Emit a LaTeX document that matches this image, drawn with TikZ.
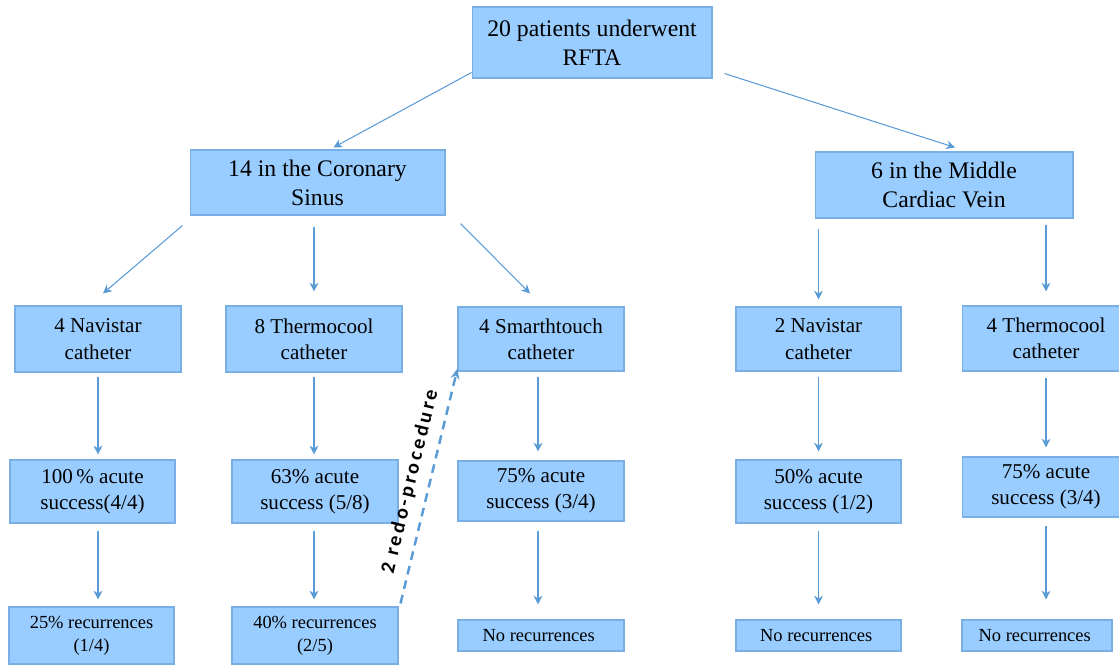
\documentclass[tikz,border=0pt]{standalone}
\usepackage{fontspec}
\setmainfont{Liberation Serif}
\newfontfamily\redofont[LetterSpace=15]{Carlito}
\usepackage{tikz}
\usetikzlibrary{positioning,arrows.meta}
\definecolor{boxfill}{RGB}{153,204,255}
\definecolor{boxline}{RGB}{120,175,230}
\definecolor{linkblue}{RGB}{91,155,213}
\tikzstyle{box}=[rectangle, draw=boxline, fill=boxfill, line width=0.6pt, align=center, text=black, inner sep=2pt]
\tikzstyle{bigbox}=[box, font=\fontsize{13.5}{16.4}\selectfont]
\tikzstyle{midbox}=[box, font=\fontsize{12}{15}\selectfont]
\tikzstyle{smallbox}=[box, font=\fontsize{10.5}{13}\selectfont]
\tikzstyle{link}=[draw=linkblue, line width=0.6pt, -{Stealth[length=5pt,width=5pt]}]
\tikzstyle{redo}=[draw=linkblue, line width=1.4pt, dash pattern=on 5pt off 3.5pt, -{Stealth[length=6pt,width=5pt]}]

\begin{document}
\begin{tikzpicture}[x=0.02cm, y=-0.02cm]
    \useasboundingbox (0,0) rectangle (1119,665);
        \node(rfta)[bigbox, minimum width=4.8cm, minimum height=1.42cm] at (592,42.5) {
            20 patients underwent\\RFTA
        };
        \node(sinus)[bigbox, minimum width=5.1cm, minimum height=1.3cm] at (317.5,182.5) {
            14 in the Coronary\\Sinus
        };
        \node(mcv)[bigbox, minimum width=5.16cm, minimum height=1.32cm] at (944,185) {
            6 in the Middle\\Cardiac Vein
        };
        \node(csnav)[midbox, minimum width=3.32cm, minimum height=1.32cm] at (98,339) {
            4 Navistar\\catheter
        };
        \node(csthermo)[midbox, minimum width=3.52cm, minimum height=1.32cm] at (314,339) {
            8 Thermocool\\catheter
        };
        \node(cssmart)[midbox, minimum width=3.32cm, minimum height=1.28cm] at (541,339) {
            4 Smarthtouch\\catheter
        };
        \node(mcvnav)[midbox, minimum width=3.3cm, minimum height=1.28cm] at (818.5,339) {
            2 Navistar\\catheter
        };
        \node(mcvthermo)[midbox, minimum width=3.36cm, minimum height=1.3cm] at (1046,338.5) {
            4 Thermocool\\catheter
        };
        \node(csnavsucc)[midbox, minimum width=3.3cm, minimum height=1.26cm] at (92.5,491.5) {
            100\,\% acute\\success(4/4)
        };
        \node(csthermosucc)[midbox, minimum width=3.32cm, minimum height=1.26cm] at (315,491.5) {
            63\% acute\\success (5/8)
        };
        \node(cssmartsucc)[midbox, minimum width=3.32cm, minimum height=1.2cm] at (541,491) {
            75\% acute\\success (3/4)
        };
        \node(mcvnavsucc)[midbox, minimum width=3.3cm, minimum height=1.26cm] at (818.5,491.5) {
            50\% acute\\success (1/2)
        };
        \node(mcvthermosucc)[midbox, minimum width=3.36cm, minimum height=1.2cm] at (1046,487) {
            75\% acute\\success (3/4)
        };
        \node(csnavrec)[smallbox, minimum width=3.3cm, minimum height=1.14cm] at (91.5,635.5) {
            25\% recurrences\\(1/4)
        };
        \node(csthermorec)[smallbox, minimum width=3.32cm, minimum height=1.14cm] at (315,635.5) {
            40\% recurrences\\(2/5)
        };
        \node(cssmartrec)[smallbox, minimum width=3.32cm, minimum height=0.62cm] at (541,635.5) {
            No recurrences
        };
        \node(mcvnavrec)[smallbox, minimum width=3.3cm, minimum height=0.62cm] at (818.5,635.5) {
            No recurrences
        };
        \node(mcvthermorec)[smallbox, minimum width=3.0cm, minimum height=0.62cm] at (1037,635.5) {
            No recurrences
        };
    \draw[link] ([shift={(0,-6)}]rfta.south west) -- ([shift={(16,-2)}]sinus.north);
    \draw[link] ([shift={(12,-5)}]rfta.south east) -- ([shift={(11,-4)}]mcv.north);
    \draw[link] ([shift={(-7,10)}]sinus.south west) -- ([shift={(5,-12)}]csnav.north);
    \draw[link, shorten <=0.22cm, shorten >=0.28cm] (csthermo.north |- sinus.south) -- (csthermo.north);
    \draw[link] ([shift={(15,8)}]sinus.south east) -- ([shift={(-11,-13)}]cssmart.north);
    \draw[link, shorten <=0.2cm, shorten >=0.14cm] (mcvnav.north |- mcv.south) -- (mcvnav.north);
    \draw[link, shorten <=0.12cm, shorten >=0.28cm] (mcvthermo.north |- mcv.south) -- (mcvthermo.north);
    \draw[link, shorten <=0.08cm, shorten >=0.1cm] (csnav.south) -- (csnav.south |- csnavsucc.north);
    \draw[link, shorten <=0.08cm, shorten >=0.1cm] (csthermo.south) -- (csthermo.south |- csthermosucc.north);
    \draw[link, shorten <=0.1cm, shorten >=0.18cm] ([xshift=-0.06cm]cssmart.south) -- ([xshift=-0.06cm]cssmart.south |- cssmartsucc.north);
    \draw[link, shorten <=0.1cm, shorten >=0.16cm] (mcvnav.south) -- (mcvnav.south |- mcvnavsucc.north);
    \draw[link, shorten <=0.12cm, shorten >=0.18cm] (mcvthermo.south) -- (mcvthermo.south |- mcvthermosucc.north);
    \draw[link, shorten <=0.14cm, shorten >=0.14cm] (csnavsucc.south -| csnav.south) -- (csnavrec.north -| csnav.south);
    \draw[link, shorten <=0.14cm, shorten >=0.14cm] (csthermosucc.south -| csthermo.south) -- (csthermorec.north -| csthermo.south);
    \draw[link, shorten <=0.18cm, shorten >=0.3cm] ([xshift=-0.06cm]cssmartsucc.south) -- ([xshift=-0.06cm]cssmartsucc.south |- cssmartrec.north);
    \draw[link, shorten <=0.14cm, shorten >=0.3cm] (mcvnavsucc.south) -- (mcvnavsucc.south |- mcvnavrec.north);
    \draw[link, shorten <=0.16cm, shorten >=0.4cm] (mcvthermosucc.south) -- (mcvthermosucc.south |- mcvthermorec.north);
    \draw[redo] ([shift={(2,-3)}]csthermorec.north east) -- node[midway, sloped, above=2pt, text=black, font=\redofont\bfseries\fontsize{11.5}{13}\selectfont]{2 redo-procedure} ([shift={(0,-3)}]cssmart.south west);
\end{tikzpicture}
\end{document}
